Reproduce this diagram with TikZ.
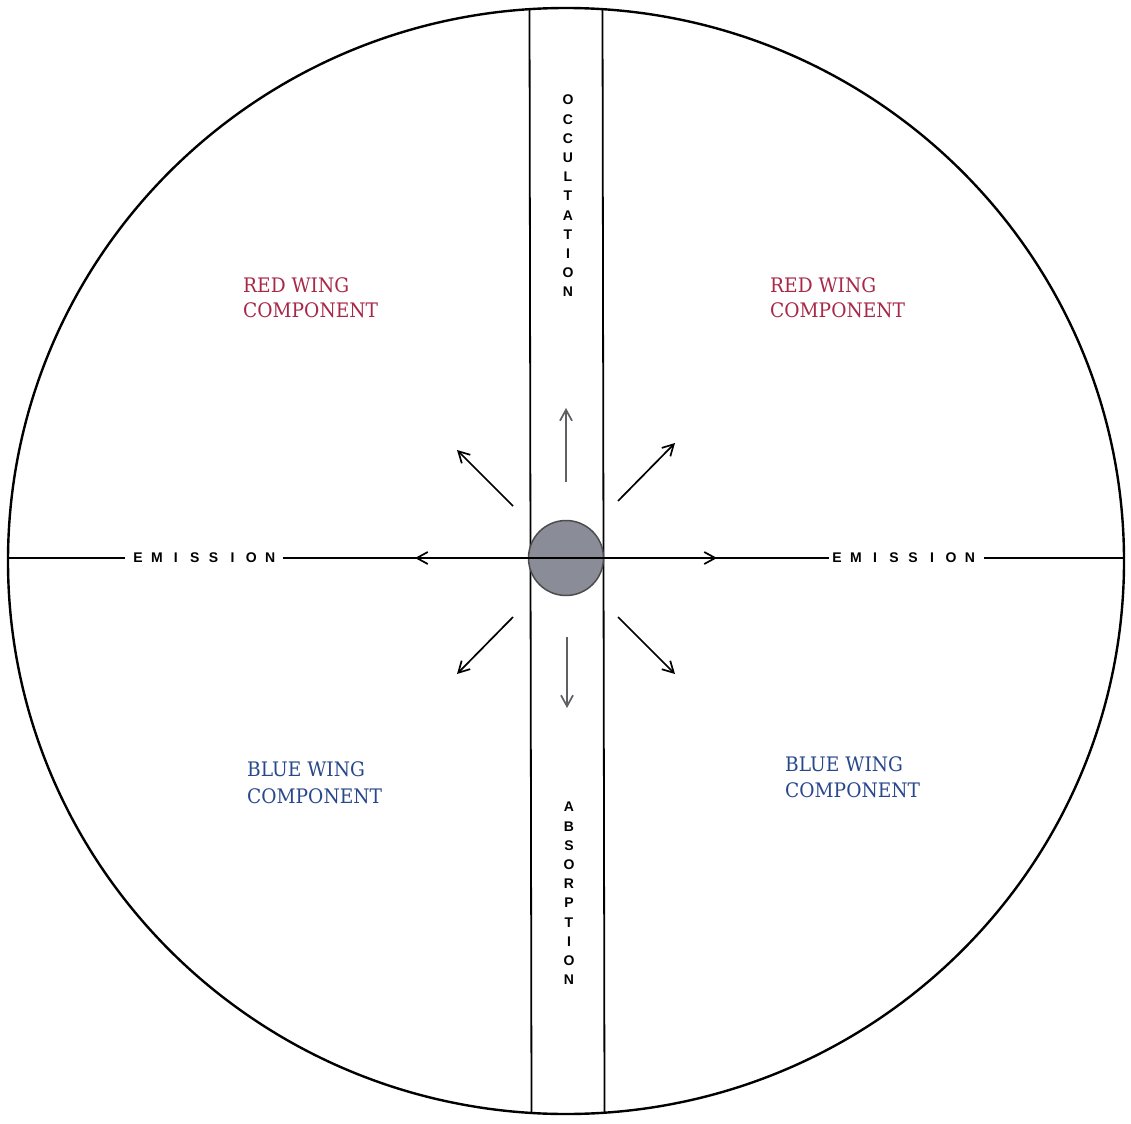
\documentclass[tikz,border=0pt]{standalone}
\usepackage{fontspec}
\setmainfont{DejaVu Serif}
\newfontfamily\wingfont[FakeStretch=0.93]{DejaVu Serif}
\newfontfamily\labfont{Liberation Sans}
\usetikzlibrary{arrows.meta}
\definecolor{redwing}{RGB}{168,40,72}
\definecolor{bluewing}{RGB}{40,72,140}
\definecolor{diskgray}{RGB}{138,140,152}
\definecolor{raygray}{RGB}{95,95,100}
\tikzset{
  frame/.style={line width=2.4pt, black},
  strip/.style={line width=1.8pt, black},
  hline/.style={line width=1.5pt, black},
  ray/.style={line width=1.7pt, -{Straight Barb[length=11pt,width=12pt,line width=1.7pt]}},
  grayray/.style={ray, raygray},
  lett/.style={inner sep=0pt, font=\labfont\bfseries\fontsize{14}{14}\selectfont},
  wing/.style={inner sep=0pt, anchor=base west, font=\wingfont\fontsize{20}{20}\selectfont},
  redlab/.style={wing, text=redwing},
  bluelab/.style={wing, text=bluewing},
  disk/.style={circle, draw=black!70, line width=1.5pt, fill=diskgray, minimum size=75pt, inner sep=0pt}
}
\begin{document}
\begin{tikzpicture}[x=1pt,y=-1pt]
\useasboundingbox (0,0) rectangle (1131,1123);
\fill[white] (0,0) rectangle (1131,1123);
% outer circle
\draw[frame] (566,561) ellipse [x radius=558, y radius=553];
% vertical strip
\coordinate (sLt) at (529.5,9.5);
\coordinate (sLb) at (531.5,1113);
\coordinate (sRt) at (602.5,9.5);
\coordinate (sRb) at (604.5,1113);
\draw[strip] (sLt) -- (sLb);
\draw[strip] (sRt) -- (sRb);
% central body
\node[disk] (star) at (566,558) {};
% horizontal line with gaps for labels
\coordinate (hL) at (8,558);
\coordinate (hR) at (1124,558);
\coordinate (gL1) at (125,558);
\coordinate (gL2) at (283,558);
\coordinate (gR1) at (829,558);
\coordinate (gR2) at (984,558);
\draw[hline] (hL) -- (gL1);
\draw[hline] (gL2) -- (gR1);
\draw[hline] (gR2) -- (hR);
% rays
\coordinate (wS) at (530,558);
\coordinate (wT) at (415,558);
\coordinate (eS) at (603,558);
\coordinate (eT) at (717,558);
\coordinate (nS) at (566,482);
\coordinate (nT) at (566,408);
\coordinate (sS) at (567,637);
\coordinate (sT) at (567,708);
\coordinate (nwS) at (513,506);
\coordinate (nwT) at (457,450);
\coordinate (neS) at (618,501);
\coordinate (neT) at (675,443);
\coordinate (swS) at (513,617);
\coordinate (swT) at (457,674);
\coordinate (seS) at (618,617);
\coordinate (seT) at (675,674);
\draw[ray] (wS) -- (wT);
\draw[ray] (eS) -- (eT);
\draw[grayray] (nS) -- (nT);
\draw[grayray] (sS) -- (sT);
\draw[ray] (nwS) -- (nwT);
\draw[ray] (neS) -- (neT);
\draw[ray] (swS) -- (swT);
\draw[ray] (seS) -- (seT);
% spaced labels
\foreach \c [count=\i from 0] in {E,M,I,S,S,I,O,N}
  \node[lett] (emL\i) at (138+18.9*\i,558) {\c};
\foreach \c [count=\i from 0] in {E,M,I,S,S,I,O,N}
  \node[lett] (emR\i) at (837+19*\i,558) {\c};
\foreach \c [count=\i from 0] in {O,C,C,U,L,T,A,T,I,O,N}
  \node[lett] (occ\i) at (568,100+19.2*\i) {\c};
\foreach \c [count=\i from 0] in {A,B,S,O,R,P,T,I,O,N}
  \node[lett] (abs\i) at (569,807+19.2*\i) {\c};
% wing labels
\node[redlab] (rl1) at (243,292) {RED WING};
\node[redlab] (rl2) at (243,317) {COMPONENT};
\node[redlab] (rr1) at (770,292) {RED WING};
\node[redlab] (rr2) at (770,317) {COMPONENT};
\node[bluelab] (bl1) at (247,776) {BLUE WING};
\node[bluelab] (bl2) at (247,803) {COMPONENT};
\node[bluelab] (br1) at (785,771) {BLUE WING};
\node[bluelab] (br2) at (785,797) {COMPONENT};
\end{tikzpicture}
\end{document}
